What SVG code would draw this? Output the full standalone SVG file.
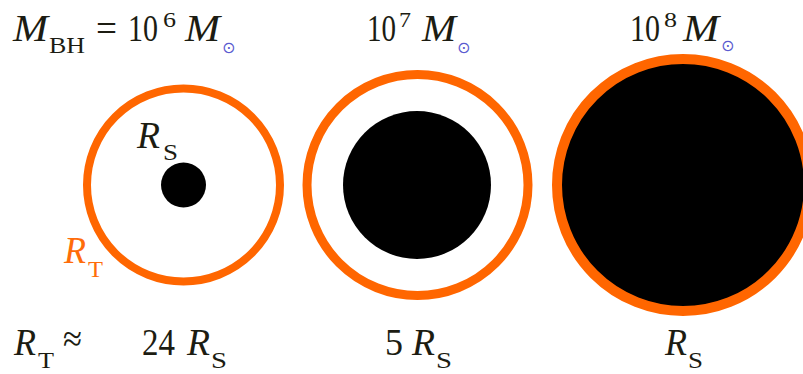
<svg xmlns="http://www.w3.org/2000/svg" width="803" height="374" viewBox="0 0 803 374">
<style>
.t{font-family:'Liberation Serif',serif;fill:#1c1c12;}
.big{font-size:37px;}
.sub{font-size:24px;}
.sup{font-size:21px;}
.it{font-style:italic;}
.sun{font-family:'DejaVu Sans',sans-serif;font-size:16px;fill:#5a5ad0;}
.or{fill:#ff6c0a;}
.ring{fill:none;stroke:#ff6600;}
.bh{fill:#000;}
</style>
<rect width="803" height="374" fill="#fff"/>
<g id="connectors"></g>
<g id="bh-1e6" font-family="Liberation Serif, serif">
  <text class="t big it" x="13" y="41" textLength="35" lengthAdjust="spacingAndGlyphs">M</text>
  <text class="t sub" x="49" y="53" textLength="36" lengthAdjust="spacingAndGlyphs">BH</text>
  <text class="t big" x="96" y="41" textLength="21" lengthAdjust="spacingAndGlyphs">=</text>
  <text class="t big" x="128" y="41" textLength="30" lengthAdjust="spacingAndGlyphs">10</text>
  <text class="t sup" x="163" y="27" textLength="13" lengthAdjust="spacingAndGlyphs">6</text>
  <text class="t big it" x="185" y="41" textLength="35" lengthAdjust="spacingAndGlyphs">M</text>
  <text class="sun" x="222" y="53">⊙</text>
  <circle class="ring" cx="183.5" cy="185" r="96.5" stroke-width="8"/>
  <circle class="bh" cx="183.5" cy="185" r="22.5"/>
  <text class="t big it" x="137" y="148" textLength="23" lengthAdjust="spacingAndGlyphs">R</text>
  <text class="t sub" x="163" y="160" textLength="15" lengthAdjust="spacingAndGlyphs">S</text>
  <text class="t big it or" x="64" y="263" textLength="22" lengthAdjust="spacingAndGlyphs">R</text>
  <text class="t sub or" x="88" y="277" textLength="15" lengthAdjust="spacingAndGlyphs">T</text>
  <text class="t big it" x="14" y="355" textLength="22" lengthAdjust="spacingAndGlyphs">R</text>
  <text class="t sub" x="38" y="368" textLength="16" lengthAdjust="spacingAndGlyphs">T</text>
  <text class="t big" x="63" y="351" textLength="19" lengthAdjust="spacingAndGlyphs">≈</text>
  <text class="t big" x="142" y="355" textLength="33" lengthAdjust="spacingAndGlyphs">24</text>
  <text class="t big it" x="187" y="355" textLength="23" lengthAdjust="spacingAndGlyphs">R</text>
  <text class="t sub" x="211" y="368" textLength="16" lengthAdjust="spacingAndGlyphs">S</text>
</g>
<g id="bh-1e7" font-family="Liberation Serif, serif">
  <text class="t big" x="367" y="41" textLength="29" lengthAdjust="spacingAndGlyphs">10</text>
  <text class="t sup" x="399" y="27" textLength="12" lengthAdjust="spacingAndGlyphs">7</text>
  <text class="t big it" x="422" y="41" textLength="34" lengthAdjust="spacingAndGlyphs">M</text>
  <text class="sun" x="457" y="53">⊙</text>
  <circle class="ring" cx="417.5" cy="185" r="110.5" stroke-width="9"/>
  <circle class="bh" cx="417" cy="185" r="74"/>
  <text class="t big" x="385" y="355" textLength="18" lengthAdjust="spacingAndGlyphs">5</text>
  <text class="t big it" x="412" y="355" textLength="23" lengthAdjust="spacingAndGlyphs">R</text>
  <text class="t sub" x="436" y="368" textLength="16" lengthAdjust="spacingAndGlyphs">S</text>
</g>
<g id="bh-1e8" font-family="Liberation Serif, serif">
  <text class="t big" x="630" y="41" textLength="30" lengthAdjust="spacingAndGlyphs">10</text>
  <text class="t sup" x="664" y="27" textLength="13" lengthAdjust="spacingAndGlyphs">8</text>
  <text class="t big it" x="683" y="41" textLength="36" lengthAdjust="spacingAndGlyphs">M</text>
  <text class="sun" x="721" y="51">⊙</text>
  <circle class="bh" cx="683" cy="185" r="126" stroke="#ff6600" stroke-width="10"/>
  <text class="t big it" x="665" y="355" textLength="22" lengthAdjust="spacingAndGlyphs">R</text>
  <text class="t sub" x="688" y="368" textLength="15" lengthAdjust="spacingAndGlyphs">S</text>
</g>
</svg>
